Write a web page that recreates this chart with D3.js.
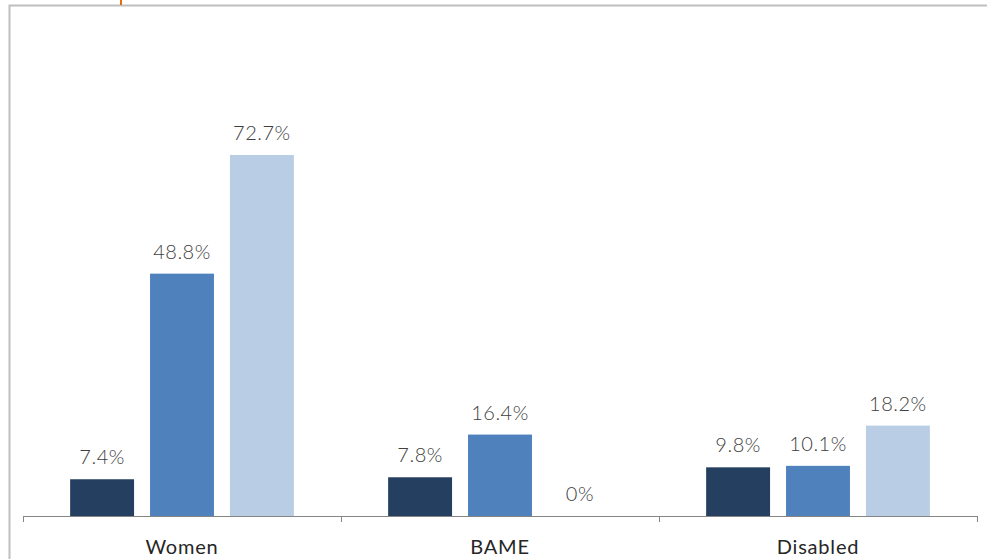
<!DOCTYPE html>
<html>
<head>
<meta charset="utf-8">
<script src="https://cdn.jsdelivr.net/npm/d3@7"></script>
<style>
  body { margin: 0; background: #fff; }
  svg { display: block; }
</style>
</head>
<body>
<div id="chart"></div>
<script>
// === DATA ===
const categories = ["Women", "BAME", "Disabled"];
const seriesNames = ["s1", "s2", "s3"];
const s1Values = [7.4, 7.8, 9.8];
const s2Values = [48.8, 16.4, 10.1];
const s3Values = [72.7, 0, 18.2];
const seriesColors = ["#243f60", "#4f81bd", "#b9cde5"];

const W = 987, H = 559;
const svg = d3.select("#chart").append("svg").attr("width", W).attr("height", H);

// frame
svg.append("path")
  .attr("d", `M9.5,${H} V5.5 H${W}`)
  .attr("fill", "none").attr("stroke", "#bfbfbf").attr("stroke-width", 2);
svg.append("line").attr("x1", 121).attr("x2", 121).attr("y1", 0).attr("y2", 5)
  .attr("stroke", "#e46c0a").attr("stroke-width", 2);

// === SCALES ===
const x0 = d3.scaleBand().domain(categories).range([23, 977]).padding(0);
const x1 = d3.scaleBand().domain(seriesNames).range([0, x0.bandwidth()])
  .paddingInner(0.2).paddingOuter(0.59);
const y = d3.scaleLinear().domain([0, 100]).range([516, 19.4]);

const rows = categories.map((c, i) => ({
  cat: c,
  vals: [s1Values[i], s2Values[i], s3Values[i]]
}));

const font = "Lato, 'Open Sans', sans-serif";

const groups = svg.append("g").selectAll("g.grp").data(rows).join("g")
  .attr("class", "grp")
  .attr("transform", d => `translate(${x0(d.cat)},0)`);

groups.selectAll("rect")
  .data(d => d.vals.map((v, j) => ({ v, s: seriesNames[j], j })))
  .join("rect")
  .attr("x", d => x1(d.s))
  .attr("y", d => y(d.v))
  .attr("width", x1.bandwidth())
  .attr("height", d => y(0) - y(d.v))
  .attr("fill", d => seriesColors[d.j]);

groups.selectAll("text.val")
  .data(d => d.vals.map((v, j) => ({ v, s: seriesNames[j], j })))
  .join("text")
  .attr("class", "val")
  .attr("x", d => x1(d.s) + x1.bandwidth() / 2)
  .attr("y", d => y(d.v) - 15)
  .attr("text-anchor", "middle")
  .attr("font-family", font)
  .attr("font-weight", 300)
  .attr("font-size", 20)
  .attr("letter-spacing", 0.5)
  .attr("fill", "#404040")
  .text(d => d.v + "%");

// === AXIS ===
const axis = svg.append("g").attr("transform", "translate(0,516)");
axis.append("line").attr("x1", 23).attr("x2", 978).attr("y1", 0.5).attr("y2", 0.5)
  .attr("stroke", "#868686");
const tickXs = categories.map(c => x0(c)).concat([x0.range()[1]]);
axis.selectAll("line.tick").data(tickXs).join("line")
  .attr("class", "tick")
  .attr("x1", d => Math.round(d) + 0.5).attr("x2", d => Math.round(d) + 0.5)
  .attr("y1", 0).attr("y2", 6)
  .attr("stroke", "#868686");
axis.selectAll("text").data(categories).join("text")
  .attr("x", d => x0(d) + x0.bandwidth() / 2)
  .attr("y", 38)
  .attr("text-anchor", "middle")
  .attr("font-family", font)
  .attr("font-size", 20)
  .attr("letter-spacing", 0.8)
  .attr("fill", "#262626")
  .text(d => d);
</script>
</body>
</html>
